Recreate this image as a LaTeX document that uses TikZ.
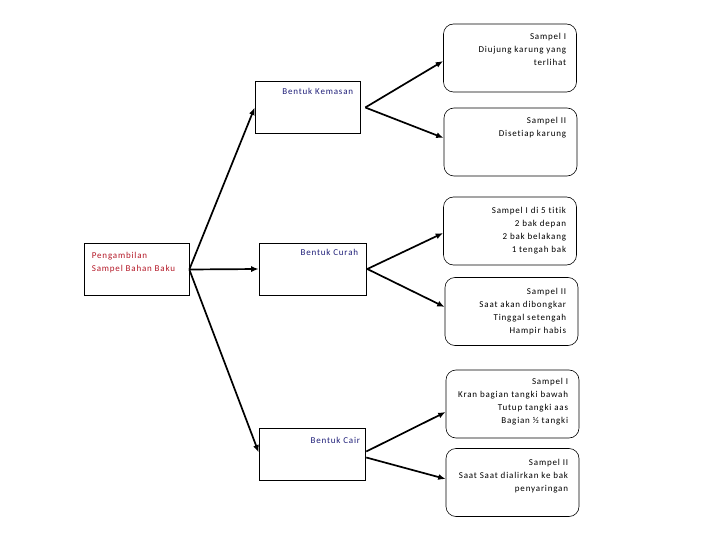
\documentclass[tikz,border=0pt]{standalone}
\usepackage{fontspec}
\setmainfont{Carlito}[LetterSpace=9,Ligatures=NoCommon]
\usepackage{xcolor}
\usepackage{tikz}
\usetikzlibrary{arrows.meta,calc,positioning}
\definecolor{judulmerah}{RGB}{180,25,40}
\definecolor{judulbiru}{RGB}{30,30,120}

\begin{document}
\begin{tikzpicture}[x=1pt,y=-1pt,
  kotak/.style={draw,line width=0.6pt,inner sep=0pt,minimum height=52pt},
  sampel/.style={draw,line width=0.6pt,rounded corners=10pt,inner sep=0pt,minimum width=133pt,minimum height=68pt},
  isi/.style={inner sep=0pt,align=right,font=\fontsize{9}{13}\selectfont},
  panah/.style={line width=1.7pt,-{Latex[length=7.5pt,width=6pt]}}]
  \useasboundingbox (0,0) rectangle (720,540);
  \node[kotak,minimum width=105pt] (utama) at (136.5,269.5) {};
  \node[kotak,minimum width=105pt] (kemasan) at (307.5,107.5) {};
  \node[kotak,minimum width=107pt] (curah) at (312.5,269) {};
  \node[kotak,minimum width=106pt] (cair) at (312,454.5) {};
  \node[sampel] (s1) at (510,58) {};
  \node[sampel] (s2) at (510.5,142) {};
  \node[sampel] (s3) at (510,231) {};
  \node[sampel] (s4) at (511.5,311.5) {};
  \node[sampel] (s5) at (512.5,404) {};
  \node[sampel] (s6) at (512.5,482.5) {};
  \node[isi,align=left,anchor=north west,judulmerah] (tutama) at ([xshift=8pt,yshift=-8.5pt]utama.north west) {Pengambilan\\Sampel Bahan Baku};
  \node[isi,anchor=north east,judulbiru] (tkemasan) at ([xshift=-7pt,yshift=-6.5pt]kemasan.north east) {Bentuk Kemasan};
  \node[isi,anchor=north east,judulbiru] (tcurah) at ([xshift=-8pt,yshift=-6.5pt]curah.north east) {Bentuk Curah};
  \node[isi,anchor=north east,judulbiru] (tcair) at ([xshift=-5pt,yshift=-8.5pt]cair.north east) {Bentuk Cair};
  \node[isi,anchor=north east] (t1) at ([xshift=-10.5pt,yshift=-9.5pt]s1.north east) {Sampel I\\Diujung karung yang\\terlihat};
  \node[isi,anchor=north east] (t2) at ([xshift=-11pt,yshift=-9.5pt]s2.north east) {Sampel II\\Disetiap karung};
  \node[isi,anchor=north east] (t3) at ([xshift=-10.5pt,yshift=-10.5pt]s3.north east) {Sampel I di 5 titik\\2 bak depan\\2 bak belakang\\1 tengah bak};
  \node[isi,anchor=north east] (t4) at ([xshift=-12pt,yshift=-10.5pt]s4.north east) {Sampel II\\Saat akan dibongkar\\Tinggal setengah\\Hampir habis};
  \node[isi,anchor=north east] (t5) at ([xshift=-11pt,yshift=-8.5pt]s5.north east) {Sampel I\\Kran bagian tangki bawah\\Tutup tangki aas\\Bagian ½ tangki};
  \node[isi,anchor=north east] (t6) at ([xshift=-11pt,yshift=-10.5pt]s6.north east) {Sampel II\\Saat Saat  dialirkan ke bak\\penyaringan};
  \coordinate (kemasanR) at ([xshift=5pt]kemasan.east);
  \coordinate (curahR) at ([xshift=1pt]curah.east);
  \coordinate (cairA) at ([xshift=1pt,yshift=3pt]cair.east);
  \coordinate (cairB) at ([xshift=1pt,yshift=-3pt]cair.east);
  \draw[panah] (utama.east) -- (kemasan.west);
  \draw[panah] (utama.east) -- (curah.west);
  \draw[panah] (utama.east) -- ([yshift=2pt]cair.west);
  \draw[panah] (kemasanR) -- ([yshift=-3pt]s1.west);
  \draw[panah] (kemasanR) -- ([yshift=4pt]s2.west);
  \draw[panah] (curahR) -- ([yshift=-2pt]s3.west);
  \draw[panah] (curahR) -- ([yshift=4.5pt]s4.west);
  \draw[panah] (cairA) -- ([yshift=-8pt]s5.west);
  \draw[panah] (cairB) -- ([yshift=3.5pt]s6.west);
\end{tikzpicture}
\end{document}
